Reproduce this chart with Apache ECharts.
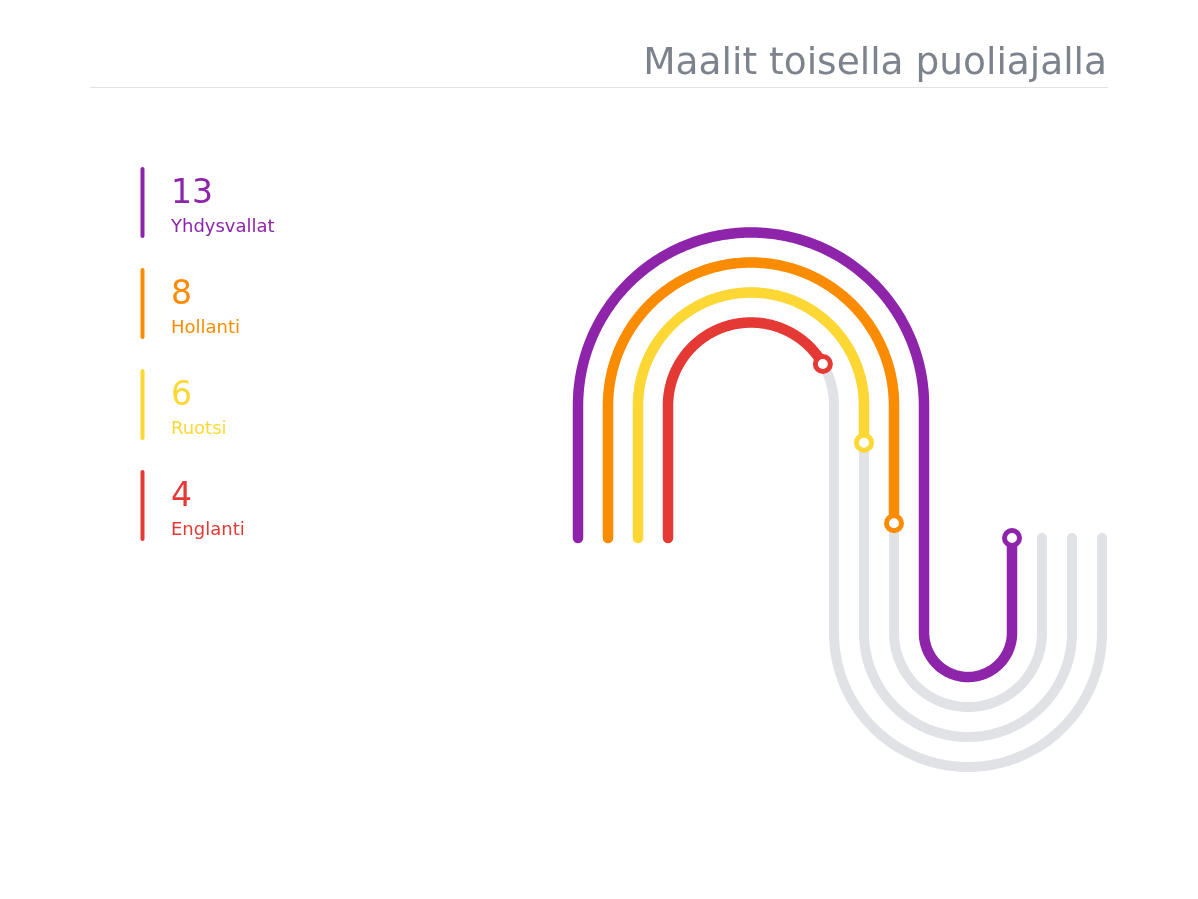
<!DOCTYPE html>
<html>
<head>
<meta charset="utf-8">
<script src="https://cdn.jsdelivr.net/npm/echarts@6/dist/echarts.min.js"></script>
<style>
html,body{margin:0;padding:0;background:#fff;}
#main{width:1198px;height:899px;}
</style>
</head>
<body>
<div id="main"></div>
<script>
// ---- data ----
var chartTitle = 'Maalit toisella puoliajalla';
var teams = ['Yhdysvallat', 'Hollanti', 'Ruotsi', 'Englanti'];
var goals = [13, 8, 6, 4];
var colors = ['#8e24aa', '#fb8c00', '#fdd835', '#e53935'];

var maxGoals = Math.max.apply(null, goals);

// ---- track geometry (layout, in axis units = pixels) ----
var G = {
  spacing: 30,
  xLeft0: 578,
  cx1: 751,
  cy1: 405.5,
  cy2: 633,
  yStart: 538,
  yEnd: 538,
  r1Outer: 173,
  r2Inner: 44
};

function trackGeom(k) {
  var r1 = G.r1Outer - G.spacing * k;
  var r2 = G.r2Inner + G.spacing * k;
  var xL = G.xLeft0 + G.spacing * k;
  var xR1 = G.cx1 + r1;
  var cx2 = xR1 + r2;
  var xR2 = cx2 + r2;
  var segs = [
    G.yStart - G.cy1,
    Math.PI * r1,
    G.cy2 - G.cy1,
    Math.PI * r2,
    G.cy2 - G.yEnd
  ];
  var total = segs.reduce(function (a, b) { return a + b; }, 0);
  return { r1: r1, r2: r2, xL: xL, xR1: xR1, cx2: cx2, xR2: xR2, segs: segs, total: total };
}

function pointAt(g, s) {
  var t = s;
  if (t <= g.segs[0]) return [g.xL, G.yStart - t];
  t -= g.segs[0];
  if (t <= g.segs[1]) {
    var th = Math.PI - t / g.r1;
    return [G.cx1 + g.r1 * Math.cos(th), G.cy1 - g.r1 * Math.sin(th)];
  }
  t -= g.segs[1];
  if (t <= g.segs[2]) return [g.xR1, G.cy1 + t];
  t -= g.segs[2];
  if (t <= g.segs[3]) {
    var th2 = Math.PI - t / g.r2;
    return [g.cx2 + g.r2 * Math.cos(th2), G.cy2 + g.r2 * Math.sin(th2)];
  }
  t -= g.segs[3];
  return [g.xR2, G.cy2 - Math.min(t, g.segs[4])];
}

function samplePath(g, len, api) {
  var pts = [];
  var step = 2;
  for (var s = 0; s < len; s += step) pts.push(api.coord(pointAt(g, s)));
  pts.push(api.coord(pointAt(g, len)));
  return pts;
}

var trackData = goals.map(function (v, i) { return [i, v]; });

var chart = echarts.init(document.getElementById('main'), null, { renderer: 'canvas' });

chart.setOption({
  backgroundColor: '#ffffff',
  animation: false,
  title: {
    text: chartTitle,
    right: 86,
    top: 40,
    textStyle: {
      fontFamily: 'DejaVu Sans',
      fontSize: 37.5,
      fontWeight: 'normal',
      color: '#7d838c'
    }
  },
  graphic: [{
    type: 'line',
    shape: { x1: 90, y1: 87.5, x2: 1108, y2: 87.5 },
    style: { stroke: '#e3e3e3', lineWidth: 1 }
  }],
  grid: { left: 0, right: 0, top: 0, bottom: 0 },
  xAxis: { type: 'value', min: 0, max: 1198, show: false },
  yAxis: { type: 'value', min: 0, max: 899, inverse: true, show: false },
  series: [
    {
      type: 'custom',
      name: 'tracks',
      clip: false,
      data: trackData,
      renderItem: function (params, api) {
        var k = api.value(0);
        var v = api.value(1);
        var g = trackGeom(k);
        var len = g.total * v / maxGoals;
        var full = samplePath(g, g.total, api);
        var part = samplePath(g, len, api);
        var end = api.coord(pointAt(g, len));
        return {
          type: 'group',
          children: [
            { type: 'polyline', shape: { points: full },
              style: { stroke: '#e1e2e6', lineWidth: 10, fill: null, lineCap: 'round', lineJoin: 'round' } },
            { type: 'polyline', shape: { points: part },
              style: { stroke: colors[k], lineWidth: 10.5, fill: null, lineCap: 'round', lineJoin: 'round' } },
            { type: 'circle', shape: { cx: end[0], cy: end[1], r: 7.5 },
              style: { fill: '#ffffff', stroke: colors[k], lineWidth: 5 } }
          ]
        };
      }
    },
    {
      type: 'custom',
      name: 'legend',
      clip: false,
      data: trackData,
      renderItem: function (params, api) {
        var k = api.value(0);
        var v = api.value(1);
        var top = 169 + 101 * k;
        var p0 = api.coord([142.5, top]);
        var p1 = api.coord([142.5, top + 67]);
        var pn = api.coord([171, top + 25]);
        var pt = api.coord([171, top + 58]);
        return {
          type: 'group',
          children: [
            { type: 'line', shape: { x1: p0[0], y1: p0[1], x2: p1[0], y2: p1[1] },
              style: { stroke: colors[k], lineWidth: 4, lineCap: 'round' } },
            { type: 'text', style: { text: String(v), x: pn[0], y: pn[1],
                fill: colors[k], font: '33px "DejaVu Sans"', textAlign: 'left', textVerticalAlign: 'middle' } },
            { type: 'text', style: { text: teams[k], x: pt[0], y: pt[1],
                fill: colors[k], font: '18px "DejaVu Sans"', textAlign: 'left', textVerticalAlign: 'middle' } }
          ]
        };
      }
    }
  ]
});
</script>
</body>
</html>
